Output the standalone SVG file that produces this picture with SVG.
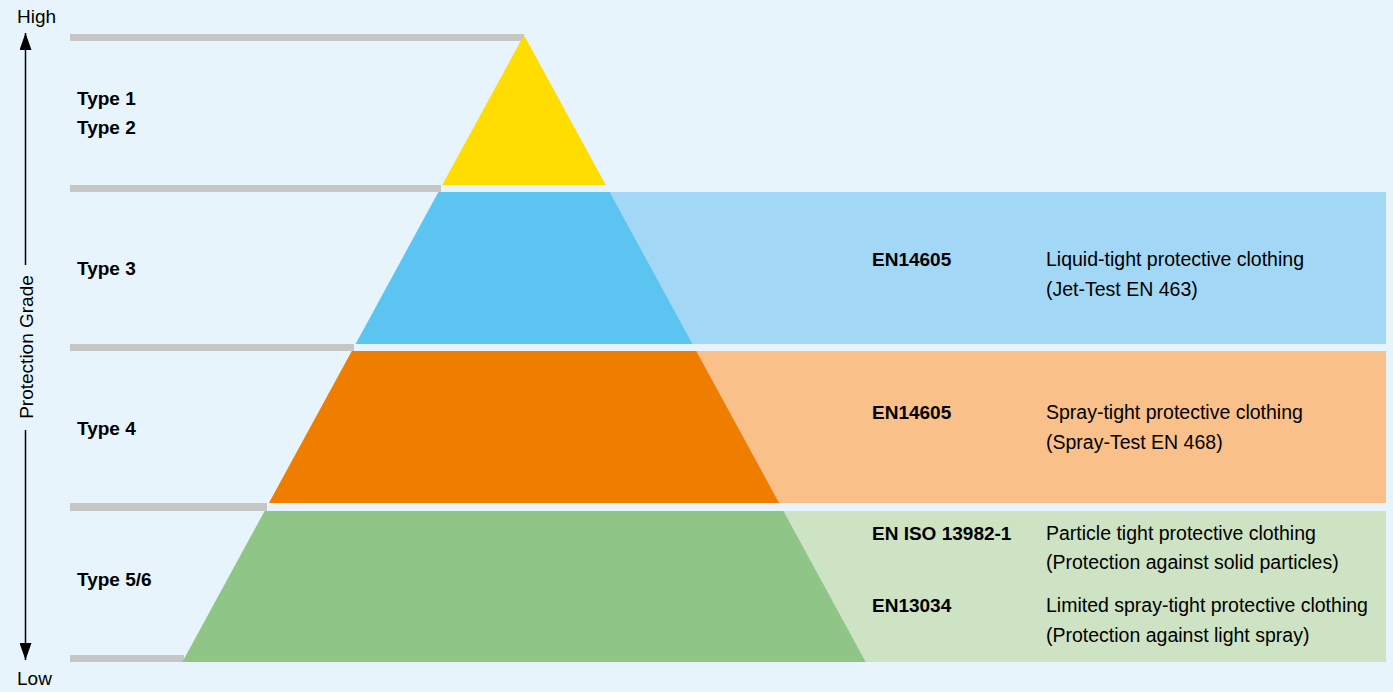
<svg xmlns="http://www.w3.org/2000/svg" width="1393" height="692" viewBox="0 0 1393 692">
<style>
text{font-family:"Liberation Sans",Arial,sans-serif;fill:#000}
.t{font-size:19px;font-weight:bold}
.d{font-size:19.5px}
.ax{font-size:19px}
.g{fill:#c6c6c6}
</style>
<defs>
<marker id="ah" viewBox="0 0 17 12" refX="17" refY="6" markerWidth="17" markerHeight="12" markerUnits="userSpaceOnUse" orient="auto">
<path d="M0,0 L17,6 L0,12 Z" fill="#000"/>
</marker>
</defs>
<rect width="1393" height="692" fill="#e8f4fc"/>
<g id="bands">
<rect x="576" y="192" width="810" height="152" fill="#a2d8f6"/>
<rect x="576" y="351" width="810" height="152" fill="#f9c08a"/>
<rect x="576" y="511" width="810" height="151" fill="#cde3c4"/>
</g>
<g id="levels">
<rect class="g" x="70" y="34" width="454" height="7"/>
<rect class="g" x="70" y="185" width="371" height="7"/>
<rect class="g" x="70" y="344" width="284" height="7"/>
<rect class="g" x="70" y="503" width="197" height="8"/>
<rect class="g" x="70" y="655" width="114" height="7"/>
</g>
<g id="node-type12"><polygon points="524,35 605.8,185 442.2,185" fill="#ffdd00"/><text class="t" x="77" y="105">Type 1</text><text class="t" x="77" y="134">Type 2</text></g>
<g id="node-type3"><polygon points="438.4,192 609.6,192 692.4,344 355.6,344" fill="#5bc4f1"/><text class="t" x="77" y="275">Type 3</text>
<text class="t" x="872" y="266">EN14605</text><text class="d" x="1046" y="266">Liquid-tight protective clothing</text><text class="d" x="1046" y="296">(Jet-Test EN 463)</text></g>
<g id="node-type4"><polygon points="351.8,351 696.2,351 779.1,503 268.9,503" fill="#ef7d00"/><text class="t" x="77" y="435">Type 4</text>
<text class="t" x="872" y="419">EN14605</text><text class="d" x="1046" y="419">Spray-tight protective clothing</text><text class="d" x="1046" y="449">(Spray-Test EN 468)</text></g>
<g id="node-type56"><polygon points="264.6,511 783.4,511 865.7,662 182.3,662" fill="#8fc587"/><text class="t" x="77" y="586">Type 5/6</text>
<text class="t" x="872" y="540">EN ISO 13982-1</text><text class="d" x="1046" y="540">Particle tight protective clothing</text><text class="d" x="1046" y="569">(Protection against solid particles)</text>
<text class="t" x="872" y="612">EN13034</text><text class="d" x="1046" y="612">Limited spray-tight protective clothing</text><text class="d" x="1046" y="642">(Protection against light spray)</text></g>
<g id="connectors">
<line x1="25.5" y1="265" x2="25.5" y2="33" stroke="#000" stroke-width="1.5" marker-end="url(#ah)"/>
<line x1="25.5" y1="430" x2="25.5" y2="660" stroke="#000" stroke-width="1.5" marker-end="url(#ah)"/>
</g>
<g id="axis-labels">
<text class="ax" x="17" y="23">High</text>
<text class="ax" x="17" y="685">Low</text>
<text class="ax" x="0" y="0" text-anchor="middle" transform="translate(33,347) rotate(-90)">Protection Grade</text>
</g>
</svg>
